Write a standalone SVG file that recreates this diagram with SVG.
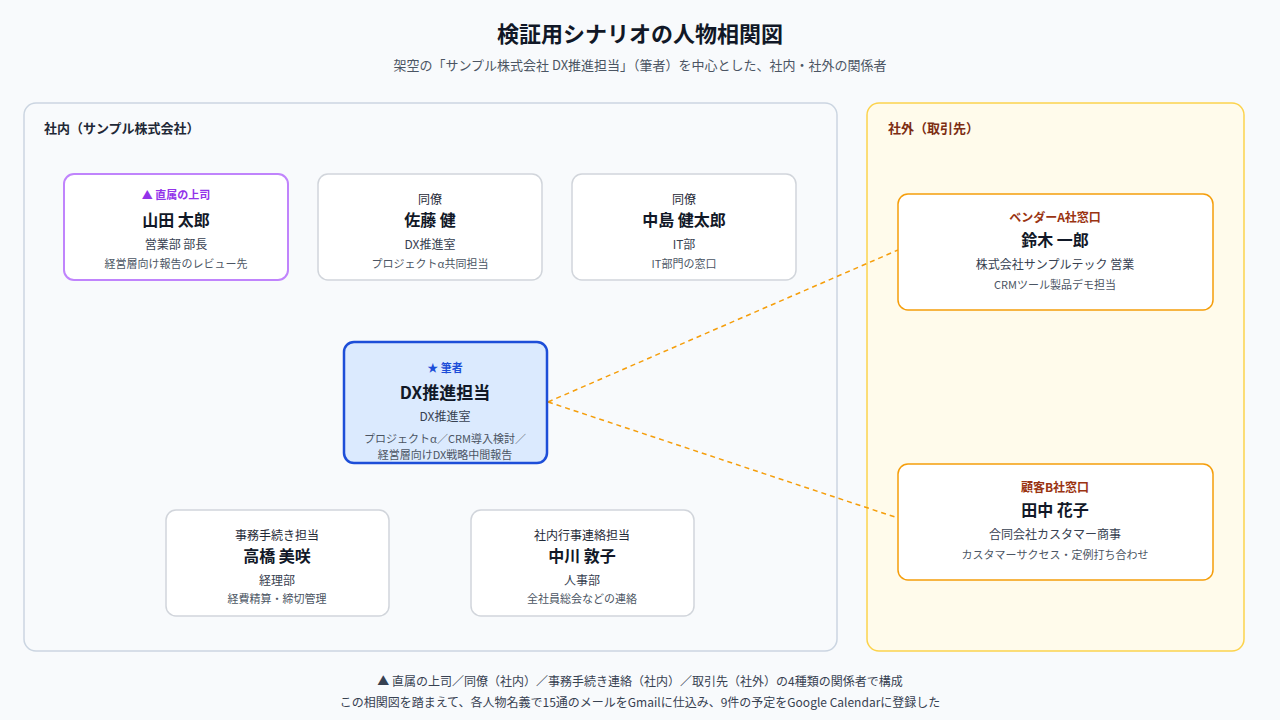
<svg xmlns="http://www.w3.org/2000/svg" width="1280" height="720" viewBox="0 0 1280 720">
<style>
text{font-family:"Noto Sans CJK JP","Noto Sans",sans-serif;text-anchor:middle}
.card{fill:#fff;stroke:#d1d5db;stroke-width:1.5}
.lab{font-size:12px;fill:#1f2937}
.nm{font-size:16px;font-weight:bold;fill:#111827}
.dp{font-size:12px;fill:#374151}
.nt{font-size:11px;fill:#4b5563}
.ext{fill:#fff;stroke:#f59e0b;stroke-width:1.5}
.elab{font-size:12px;font-weight:bold;fill:#9a3412}
</style>
<rect width="1280" height="720" fill="#f8fafc"/>
<text x="640" y="42" style="font-size:22px;font-weight:bold;fill:#111827">検証用シナリオの人物相関図</text>
<text x="640" y="70" style="font-size:13px;fill:#4b5563">架空の「サンプル株式会社 DX推進担当」（筆者）を中心とした、社内・社外の関係者</text>
<rect x="24" y="103" width="813" height="548" rx="12" fill="#f8fafc" stroke="#cbd5e1" stroke-width="1.5"/>
<text x="44" y="133" style="font-size:13px;font-weight:bold;fill:#1f2937;text-anchor:start">社内（サンプル株式会社）</text>
<rect x="867" y="103" width="377" height="548" rx="12" fill="#fffbeb" stroke="#fcd34d" stroke-width="1.5"/>
<text x="888" y="133" style="font-size:13px;font-weight:bold;fill:#7c2d12;text-anchor:start">社外（取引先）</text>
<g id="connectors" stroke="#f59e0b" stroke-width="1.5" stroke-dasharray="5,4" fill="none">
<line x1="548" y1="402" x2="898" y2="250"/>
<line x1="548" y1="402" x2="898" y2="518"/>
</g>
<g id="yamada"><rect x="64" y="174" width="224" height="106" rx="10" fill="#fff" stroke="#c084fc" stroke-width="2"/>
<text x="176" y="199" style="font-size:11px;font-weight:bold;fill:#9333ea">▲ 直属の上司</text>
<text x="176" y="226" class="nm">山田 太郎</text><text x="176" y="249" class="dp">営業部 部長</text><text x="176" y="268" class="nt">経営層向け報告のレビュー先</text></g>
<g id="sato"><rect x="318" y="174" width="224" height="106" rx="10" class="card"/>
<text x="430" y="204" class="lab">同僚</text><text x="430" y="226" class="nm">佐藤 健</text><text x="430" y="249" class="dp">DX推進室</text><text x="430" y="268" class="nt">プロジェクトα共同担当</text></g>
<g id="nakajima"><rect x="572" y="174" width="224" height="106" rx="10" class="card"/>
<text x="684" y="204" class="lab">同僚</text><text x="684" y="226" class="nm">中島 健太郎</text><text x="684" y="249" class="dp">IT部</text><text x="684" y="268" class="nt">IT部門の窓口</text></g>
<g id="author"><rect x="344" y="342" width="203" height="121" rx="10" fill="#dbeafe" stroke="#1d4ed8" stroke-width="2.5"/>
<text x="445" y="372" style="font-size:11px;font-weight:bold;fill:#1d4ed8">★ 筆者</text>
<text x="445" y="399" style="font-size:17px;font-weight:bold;fill:#111827">DX推進担当</text>
<text x="445" y="421" class="dp">DX推進室</text>
<text x="445" y="443" class="nt">プロジェクトα／CRM導入検討／</text>
<text x="445" y="459" class="nt">経営層向けDX戦略中間報告</text></g>
<g id="takahashi"><rect x="166" y="510" width="223" height="106" rx="10" class="card"/>
<text x="277" y="540" class="lab">事務手続き担当</text><text x="277" y="562" class="nm">高橋 美咲</text><text x="277" y="585" class="dp">経理部</text><text x="277" y="603" class="nt">経費精算・締切管理</text></g>
<g id="nakagawa"><rect x="471" y="510" width="223" height="106" rx="10" class="card"/>
<text x="582" y="540" class="lab">社内行事連絡担当</text><text x="582" y="562" class="nm">中川 敦子</text><text x="582" y="585" class="dp">人事部</text><text x="582" y="603" class="nt">全社員総会などの連絡</text></g>
<g id="suzuki"><rect x="898" y="194" width="315" height="116" rx="10" class="ext"/>
<text x="1055" y="222" class="elab">ベンダーA社窓口</text><text x="1055" y="246" class="nm">鈴木 一郎</text><text x="1055" y="269" class="dp">株式会社サンプルテック 営業</text><text x="1055" y="289" class="nt">CRMツール製品デモ担当</text></g>
<g id="tanaka"><rect x="898" y="464" width="315" height="116" rx="10" class="ext"/>
<text x="1055" y="492" class="elab">顧客B社窓口</text><text x="1055" y="516" class="nm">田中 花子</text><text x="1055" y="539" class="dp">合同会社カスタマー商事</text><text x="1055" y="559" class="nt">カスタマーサクセス・定例打ち合わせ</text></g>
<text x="640" y="686" style="font-size:12px;fill:#374151">▲ 直属の上司／同僚（社内）／事務手続き連絡（社内）／取引先（社外）の4種類の関係者で構成</text>
<text x="640" y="707" style="font-size:12px;fill:#374151">この相関図を踏まえて、各人物名義で15通のメールをGmailに仕込み、9件の予定をGoogle Calendarに登録した</text>
</svg>
